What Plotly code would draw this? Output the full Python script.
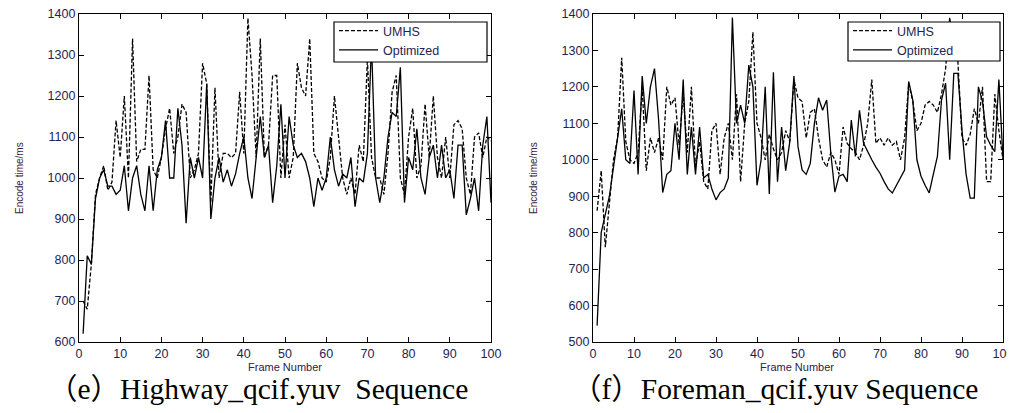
import plotly.graph_objects as go

frames = list(range(1, 101))

hw_umhs = [700, 680, 790, 960, 1000, 1030, 970, 990, 1140, 1050,
           1200, 1000, 1340, 1040, 1070, 1070, 1250, 1020, 1000, 1050,
           1120, 1170, 1060, 1100, 1180, 1160, 1000, 1020, 1060, 1280,
           1230, 940, 1220, 1000, 1060, 1060, 1050, 1060, 1210, 1060,
           1390, 1250, 1050, 1340, 1050, 1080, 1250, 1250, 1000, 1130,
           1000, 1050, 1280, 1220, 1200, 1340, 1060, 1040, 1000, 990,
           1050, 1200, 1100, 1000, 960, 1000, 960, 1080, 1040, 1290,
           1050, 1000, 1000, 960, 1060, 1210, 1250, 1000, 960, 1100,
           1170, 1000, 1030, 1180, 1050, 1200, 1050, 1000, 1100, 1000,
           1130, 1140, 1120, 1000, 960, 1100, 1110, 1050, 1100, 1090]

hw_opt = [620, 810, 790, 950, 1000, 1020, 980, 980, 960, 970,
          1030, 920, 1000, 1030, 960, 920, 1030, 920, 1020, 1050,
          1140, 1000, 1000, 1170, 1080, 890, 1050, 1000, 1050, 1000,
          1230, 900, 1000, 1050, 990, 1020, 980, 1010, 1060, 1100,
          1000, 950, 1050, 1150, 1050, 1080, 940, 1030, 1180, 1000,
          1150, 1080, 1050, 1060, 1040, 1000, 930, 1000, 970, 1000,
          1100, 1020, 980, 1010, 1000, 1050, 930, 1000, 990, 1060,
          1330, 1000, 940, 1000, 1100, 1160, 1150, 1270, 940, 1050,
          1020, 1120, 1000, 960, 1050, 1080, 1000, 1080, 1000, 1020,
          950, 1080, 1080, 910, 950, 1000, 920, 1080, 1150, 940]

fm_umhs = [860, 970, 760, 880, 1000, 1060, 1280, 1050, 1000, 990,
           1020, 1200, 970, 1060, 1020, 1060, 1000, 1200, 1150, 1170,
           1040, 1180, 1020, 1200, 980, 1050, 940, 920, 1080, 1100,
           960, 1060, 1100, 1000, 1180, 940, 1100, 1160, 1350, 1100,
           1060, 1000, 1070, 1030, 1000, 1020, 1080, 1050, 1220, 1170,
           1160, 1060, 1130, 1140, 1060, 1000, 980, 1020, 1000, 960,
           1090, 1045, 1030, 1020, 1000, 1040, 1100, 1220, 1045, 1060,
           1040, 1060, 1040, 1050, 1000, 1060, 1210, 1160, 1080, 1100,
           1150, 1160, 1150, 1130, 1180, 1250, 1390, 1320, 1270, 1060,
           1040, 1070, 1140, 1100, 1200, 940, 940, 1180, 1080, 1000]

fm_opt = [545, 800, 850, 900, 980, 1060, 1140, 1000, 990, 1190,
          960, 1230, 1100, 1200, 1250, 1110, 910, 960, 970, 1100,
          1000, 1220, 960, 1090, 960, 1090, 950, 960, 920, 890,
          910, 920, 950, 1390, 1100, 1150, 1100, 1260, 1200, 930,
          1000, 1200, 906, 1240, 940, 1090, 970, 1050, 1230, 1036,
          972, 960, 990, 1100, 1170, 1136, 1164, 1018, 911, 955,
          960, 940, 1109, 1009, 1136, 1045, 1020, 1000, 980, 963,
          940, 920, 909, 931, 950, 972, 1215, 1164, 1000, 955,
          930, 909, 960, 1009, 1164, 1210, 1000, 1237, 1237, 1081,
          960, 895, 895, 1200, 1160, 1063, 1040, 1022, 1220, 1000]

x_ticks = list(range(0, 101, 10))
series_names = ["UMHS", "Optimized"]
captions = ["（e）Highway_qcif.yuv  Sequence", "（f）Foreman_qcif.yuv Sequence"]
x_title = "Frame Number"
y_title = "Encode time/ms"

# page body has an 8px default margin; compensate so window coords match
OFF = 8
W, H = 1015 - OFF, 413 - OFF
def px(x): return (x - OFF) / W
def py(y): return 1 - (y - OFF) / H

fig = go.Figure()

tick_font = dict(family="Liberation Sans, Arial, sans-serif", size=12.5, color="#1e2452")
line_w = 1.3
dash_style = "4px,2px"

fig.add_trace(go.Scatter(x=frames, y=hw_umhs, mode="lines", name=series_names[0],
                         line=dict(color="black", width=line_w, dash=dash_style),
                         xaxis="x", yaxis="y", legend="legend"))
fig.add_trace(go.Scatter(x=frames, y=hw_opt, mode="lines", name=series_names[1],
                         line=dict(color="black", width=line_w),
                         xaxis="x", yaxis="y", legend="legend"))
fig.add_trace(go.Scatter(x=frames, y=fm_umhs, mode="lines", name=series_names[0],
                         line=dict(color="black", width=line_w, dash=dash_style),
                         xaxis="x2", yaxis="y2", legend="legend2"))
fig.add_trace(go.Scatter(x=frames, y=fm_opt, mode="lines", name=series_names[1],
                         line=dict(color="black", width=line_w),
                         xaxis="x2", yaxis="y2", legend="legend2"))

axis_common = dict(showline=True, linecolor="black", linewidth=1.2, mirror="ticks",
                   ticks="inside", ticklen=5, tickcolor="black", tickwidth=1,
                   showgrid=False, zeroline=False, tickfont=tick_font, automargin=False,
                   ticklabeloverflow="allow")

legend_font = dict(family="Liberation Sans, Arial, sans-serif", size=12.5, color="#1e2452")

fig.update_layout(
    template="none",
    width=W, height=H,
    margin=dict(l=0, r=0, t=0, b=0, autoexpand=False),
    paper_bgcolor="white", plot_bgcolor="white",
    xaxis=dict(domain=[px(79), px(491)], range=[0, 100], tickvals=x_ticks,
               anchor="y", **axis_common),
    yaxis=dict(domain=[py(342), py(14)], range=[600, 1400], dtick=100,
               anchor="x", **axis_common),
    xaxis2=dict(domain=[px(593), px(1003)], range=[0, 100], tickvals=x_ticks,
                anchor="y2", **axis_common),
    yaxis2=dict(domain=[py(342), py(14)], range=[500, 1400], dtick=100,
                anchor="x2", **axis_common),
    legend=dict(x=px(334), y=py(16), xanchor="left", yanchor="top",
                borderwidth=0, bgcolor="rgba(0,0,0,0)",
                font=legend_font, tracegroupgap=0, itemwidth=39),
    legend2=dict(x=px(848), y=py(16), xanchor="left", yanchor="top",
                 borderwidth=0, bgcolor="rgba(0,0,0,0)",
                 font=legend_font, tracegroupgap=0, itemwidth=39),
    showlegend=True,
)

# legend frames (white boxes with black border behind the legend entries)
legend_boxes = [(334, 487, 22, 62), (848, 1000, 22, 61)]
for x0, x1, y0, y1 in legend_boxes:
    fig.add_shape(type="rect", xref="paper", yref="paper",
                  x0=px(x0), x1=px(x1), y0=py(y1), y1=py(y0),
                  line=dict(color="black", width=1.2), fillcolor="white", layer="above")

ann_font_small = dict(family="Liberation Sans, Arial, sans-serif", size=11, color="#2a2250")
ann_font_y = dict(family="Liberation Sans, Arial, sans-serif", size=10, color="#3b1a48")
cap_font = dict(family="Liberation Serif, 'Times New Roman', 'Noto Sans CJK SC', serif", size=29.5, color="black")

annotations = [
    dict(x=px(285), y=py(367), text=x_title, showarrow=False, xanchor="center", yanchor="middle",
         xref="paper", yref="paper", font=ann_font_small),
    dict(x=px(797), y=py(367), text=x_title, showarrow=False, xanchor="center", yanchor="middle",
         xref="paper", yref="paper", font=ann_font_small),
    dict(x=px(19), y=py(178), text=y_title, textangle=-90, showarrow=False, xanchor="center",
         yanchor="middle", xref="paper", yref="paper", font=ann_font_y),
    dict(x=px(533), y=py(178), text=y_title, textangle=-90, showarrow=False, xanchor="center",
         yanchor="middle", xref="paper", yref="paper", font=ann_font_y),
    dict(x=px(258), y=py(389), text=captions[0], showarrow=False, xanchor="center", yanchor="middle",
         xref="paper", yref="paper", font=cap_font),
    dict(x=px(775), y=py(389), text=captions[1], showarrow=False, xanchor="center", yanchor="middle",
         xref="paper", yref="paper", font=cap_font),
]
fig.update_layout(annotations=annotations)

fig.write_html("out.html")
